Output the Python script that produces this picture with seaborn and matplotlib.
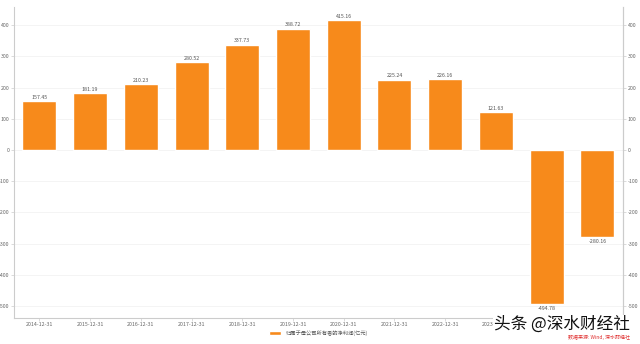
import matplotlib
matplotlib.use("Agg")
import matplotlib.pyplot as plt
import seaborn as sns
import pandas as pd

categories = ["2014-12-31", "2015-12-31", "2016-12-31", "2017-12-31", "2018-12-31",
              "2019-12-31", "2020-12-31", "2021-12-31", "2022-12-31", "2023-12-31",
              "2024-12-31", "2025-09-30"]
values = [157.45, 181.19, 210.23, 280.52, 337.73, 388.72, 415.16, 225.24, 226.16,
          121.63, -494.78, -280.16]
series_name = "归属于母公司所有者的净利润(亿元)"
yticks = [-500, -400, -300, -200, -100, 0, 100, 200, 300, 400]

sns.set_theme(style="white")
plt.rcParams['font.family'] = ['Noto Sans CJK SC', 'DejaVu Sans']

df = pd.DataFrame({"date": categories, "value": values})

fig = plt.figure(figsize=(6.4, 3.44), dpi=100)
ax = fig.add_axes([0.022, 0.0756, 0.951, 0.904])
color = "#F78A1B"
sns.barplot(data=df, x="date", y="value", color=color, width=0.67, ax=ax,
            saturation=1, label=series_name)

ylim = (-538, 458)
ax.set_ylim(*ylim)
ax.set_xlim(-0.5, len(categories) - 0.5)
ax.set_yticks(yticks)
ax.set_yticklabels([str(t) for t in yticks])
ax.set_xlabel("")
ax.set_ylabel("")
ax.grid(axis="y", color="#f2f2f2", linewidth=0.6)
ax.set_axisbelow(True)
ax.spines["top"].set_visible(False)
for s in ["left", "bottom", "right"]:
    ax.spines[s].set_color("#cccccc")
    ax.spines[s].set_linewidth(0.8)
ax.tick_params(axis="both", labelsize=3.8, colors="#666666", length=2, width=0.5,
               pad=1.2, direction="out", left=True, bottom=True)
ax.tick_params(axis="both", color="#cccccc")

ax2 = ax.twinx()
ax2.set_ylim(*ylim)
ax2.set_yticks(yticks)
ax2.set_yticklabels([str(t) for t in yticks])
for s in ["top", "left", "bottom"]:
    ax2.spines[s].set_visible(False)
ax2.spines["right"].set_color("#cccccc")
ax2.spines["right"].set_linewidth(0.8)
ax2.tick_params(axis="y", labelsize=3.8, colors="#666666", length=2, width=0.5,
                pad=1.5, right=True)
ax2.tick_params(axis="y", color="#cccccc")
ax2.grid(False)

for i, v in enumerate(values):
    ax.text(i, v + (4 if v >= 0 else -4), f"{v:.2f}", ha="center",
            va="bottom" if v >= 0 else "top", fontsize=3.8, color="#555555")

leg = ax.legend(loc="upper center", bbox_to_anchor=(0.5, -0.036), frameon=False,
                fontsize=3.8, handlelength=2.2, handleheight=0.9,
                borderaxespad=0, borderpad=0.2)
for t in leg.get_texts():
    t.set_color("#555555")

fig.text(0.984, 0.057, "头条 @深水财经社", fontsize=12, color="#111111",
         ha="right", va="center",
         bbox=dict(facecolor="white", edgecolor="none", pad=0.5))
fig.text(0.984, 0.018, "数据来源: Wind, 深水财经社", fontsize=3.6, color="#e03030",
         ha="right", va="center")

fig.savefig("out.png", dpi=100)
